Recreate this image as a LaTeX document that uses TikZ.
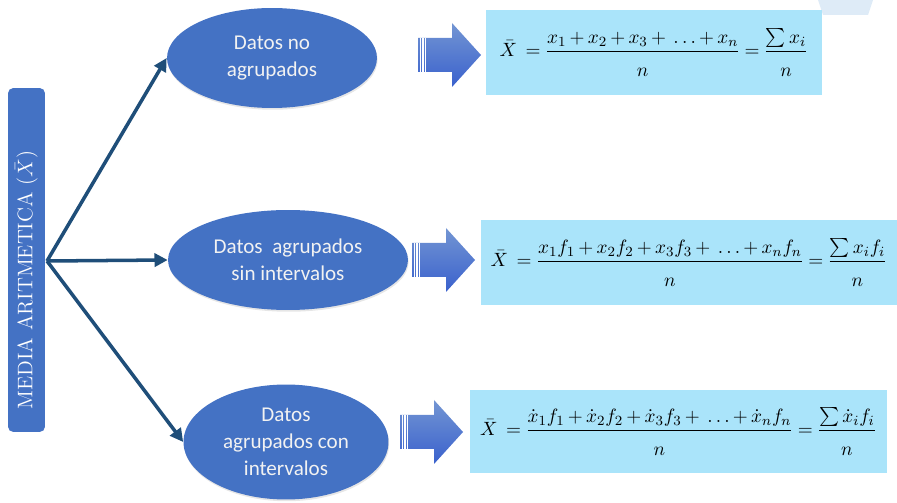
\documentclass[tikz,border=0pt]{standalone}
\usepackage{amsmath,amssymb}
\usepackage{fontspec}
\usepackage{tikz}
\usetikzlibrary{shapes.geometric, positioning, arrows.meta, shadows}
\newfontfamily\calibri{Carlito}
\definecolor{elblue}{RGB}{68,114,196}
\definecolor{conblue}{RGB}{31,78,121}
\definecolor{formbox}{RGB}{170,228,250}
\definecolor{paleblue}{RGB}{222,235,247}
\newcommand{\tightsp}{\medmuskip=3mu\relax\thickmuskip=4mu\relax}
\newcommand{\strutn}{\rule{0pt}{2.7ex}n}

\begin{document}
\begin{tikzpicture}[
    x=0.02cm, y=-0.02cm,
    title/.style={draw=none, fill=elblue, rounded corners=3pt, rotate=90, minimum width=6.88cm, minimum height=0.74cm, text=white, font=\fontsize{12}{14}\selectfont},
    datos/.style={ellipse, fill=elblue, text=white!95!black, align=center, inner sep=0pt, font=\calibri\fontsize{12}{15.5}\selectfont, drop shadow={opacity=0.2, shadow xshift=0.4pt, shadow yshift=-1pt}},
    formula/.style={fill=formbox, minimum height=1.7cm, inner sep=0pt, font=\fontsize{10.8}{13}\selectfont},
    bigarrow/.pic={
        \path[top color=elblue!75!white, bottom color=elblue!85!blue]
            (0,-17) -- (34,-17) -- (34,-32) -- (63,0) -- (34,32) -- (34,17) -- (0,17) -- cycle;
        \foreach \k in {2.5,5,7.5}
            \draw[white, line width=0.6pt] (\k,-17) -- (\k,17);
    },
    conn/.style={conblue, line width=2pt, -{Triangle[length=7.5pt, width=7.5pt]}}
]
    \useasboundingbox (0,0) rectangle (897,503);
    \fill[paleblue] (818,0) -- (873,0) -- (868,15) -- (823,15) -- cycle;

    % Nodes
    \node[title] (media) at (26.5,260) {MEDIA ARITMETICA ($\bar{X}$)\kern0.8cm};
    \coordinate (hub) at (47,261);

    \node[datos, minimum width=4.2cm, minimum height=2cm] (noagr) at (272,58) {Datos no\\agrupados};
    \node[datos, minimum width=4.8cm, minimum height=2cm] (sinint) at (288,260) {Datos\ \ agrupados\\sin intervalos};
    \node[datos, minimum width=4.1cm, minimum height=2.3cm] (conint) at (286,442) {Datos\\agrupados con\\intervalos};

    \pic at (418,55) {bigarrow};
    \pic at (412,260) {bigarrow};
    \pic at (400,432) {bigarrow};

    \node[formula, minimum width=6.72cm] (f1) at (654,52.5)
        {$\tightsp\bar{X}\;=\dfrac{x_1+x_2+x_3+\;\ldots+x_n}{\strutn}=\dfrac{\textstyle\sum x_i}{\strutn}$};
    \node[formula, minimum width=8.32cm] (f2) at (689,262.5)
        {$\tightsp\bar{X}\;=\dfrac{x_1f_1+x_2f_2+x_3f_3+\;\ldots+x_nf_n}{\strutn}=\dfrac{\textstyle\sum x_if_i}{\strutn}$};
    \node[formula, minimum width=8.34cm, minimum height=1.66cm] (f3) at (678.5,431.5)
        {$\tightsp\bar{X}\;=\dfrac{\dot{x}_1f_1+\dot{x}_2f_2+\dot{x}_3f_3+\;\ldots+\dot{x}_nf_n}{\strutn}=\dfrac{\textstyle\sum \dot{x}_if_i}{\strutn}$};

    % Connections
    \draw[conn] (hub) -- (noagr.west);
    \draw[conn] (hub) -- (sinint.west);
    \draw[conn] (hub) -- (conint.west);
\end{tikzpicture}
\end{document}
